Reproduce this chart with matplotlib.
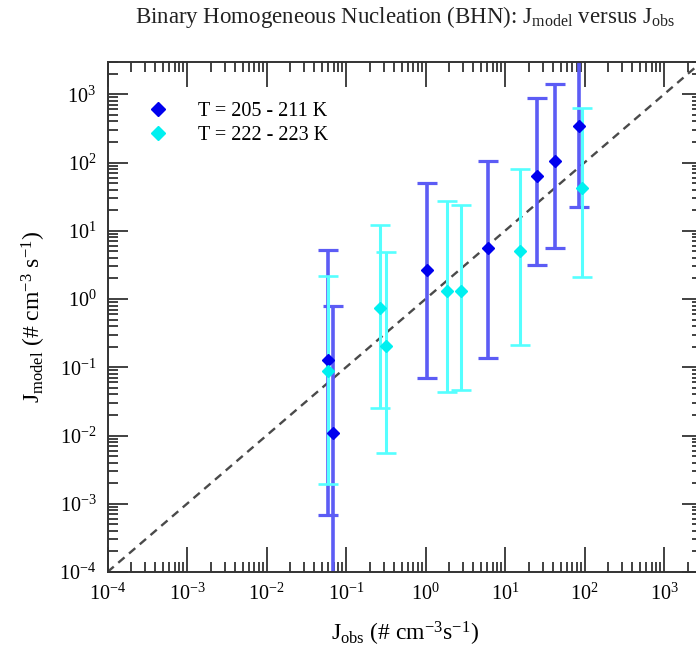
import numpy as np
import matplotlib
matplotlib.use("Agg")
import matplotlib.pyplot as plt
from matplotlib.ticker import LogLocator, FuncFormatter, NullFormatter

plt.rcParams['font.family'] = ['Liberation Serif', 'DejaVu Serif']
plt.rcParams['mathtext.fontset'] = 'custom'
plt.rcParams['mathtext.rm'] = 'Liberation Serif'
plt.rcParams['mathtext.it'] = 'Liberation Serif:italic'
plt.rcParams['mathtext.default'] = 'regular'

# ---- data: T = 205 - 211 K ----
cold_obs = [0.0589, 0.068, 1.04, 6.17, 25.3, 42.2, 86.0]
cold_model = [0.126, 0.0109, 2.67, 5.66, 63.2, 107.0, 344.0]
cold_low = [6.8e-4, 1e-5, 0.069, 0.135, 3.19, 5.66, 22.5]
cold_high = [5.24, 0.80, 50.0, 107.0, 874.0, 1400.0, 5000.0]

# ---- data: T = 222 - 223 K ----
warm_obs = [0.0589, 0.265, 0.318, 1.85, 2.82, 15.5, 93.8]
warm_model = [0.087, 0.726, 0.207, 1.30, 1.30, 5.0, 42.3]
warm_low = [1.94e-3, 0.0256, 5.46e-3, 0.044, 0.047, 0.214, 2.08]
warm_high = [2.21, 12.3, 4.9, 26.9, 24.1, 80.9, 637.0]

labels = ["T = 205 - 211 K", "T = 222 - 223 K"]
lim_lo, lim_hi = 1e-4, 3e3

W, H = 696, 656
fig = plt.figure(figsize=(W / 100, H / 100), dpi=100)
ax = fig.add_axes([107.5 / W, (H - 572) / H, (702 - 107.5) / W, (572 - 61.7) / H])
ax.set_xscale('log')
ax.set_yscale('log')
ax.set_xlim(lim_lo, lim_hi)
ax.set_ylim(lim_lo, lim_hi)

# 1:1 line
ax.axline((1e-4, 1e-4), (1, 1), color='#4a4a4a', lw=1.7, ls=(0, (3.5, 2.5)), zorder=1)

series = [
    (cold_obs, cold_model, cold_low, cold_high, '#0000ee', '#5c5cf5', 2.6),
    (warm_obs, warm_model, warm_low, warm_high, '#00f0f0', '#55ffff', 2.2),
]
for (xo, ym, lo, hi, mc, ec, lw), lab in zip(series, labels):
    xo = np.array(xo); ym = np.array(ym); lo = np.array(lo); hi = np.array(hi)
    ax.errorbar(xo, ym, yerr=[ym - lo, hi - ym], fmt='none', ecolor=ec,
                elinewidth=lw, capsize=7.5, capthick=lw - 0.3, zorder=2)
    ax.plot(xo, ym, 'D', color=mc, ms=6, mec=mc, label=lab, zorder=3, ls='none')

# ticks
for axis in (ax.xaxis, ax.yaxis):
    axis.set_major_locator(LogLocator(base=10, numticks=20))
    axis.set_minor_locator(LogLocator(base=10, subs=np.arange(2, 10), numticks=20))
    axis.set_minor_formatter(NullFormatter())
fmt = FuncFormatter(lambda v, p: r'$10^{%d}$' % int(round(np.log10(v))))
ax.xaxis.set_major_formatter(fmt)
ax.yaxis.set_major_formatter(fmt)
ax.tick_params(which='both', direction='in', top=True, right=True, color='#333333', width=1.3)
ax.tick_params(axis='x', which='major', length=18, pad=8, labelsize=14.5)
ax.tick_params(axis='y', which='major', length=14.5, pad=8, labelsize=14.5)
ax.tick_params(which='minor', length=7.5)
for s in ax.spines.values():
    s.set_linewidth(1.4)
    s.set_color('#333333')

ax.set_xlabel(r'J$_{obs}$ (# cm$^{-3}$s$^{-1}$)', fontsize=17, labelpad=11)
ax.set_ylabel(r'J$_{model}$ (# cm$^{-3}$ s$^{-1}$)', fontsize=17, labelpad=8)
ax.set_title(r'Binary Homogeneous Nucleation (BHN): J$_{model}$ versus J$_{obs}$',
             fontsize=16.5, pad=28, color='#222222')

leg = ax.legend(loc='upper left', bbox_to_anchor=(0.051, 0.921), frameon=False,
                borderpad=0, borderaxespad=0, fontsize=14.5, handlelength=2.0,
                handletextpad=1.0, labelspacing=0.25, markerscale=1.15)

fig.savefig('out.png', dpi=100)
